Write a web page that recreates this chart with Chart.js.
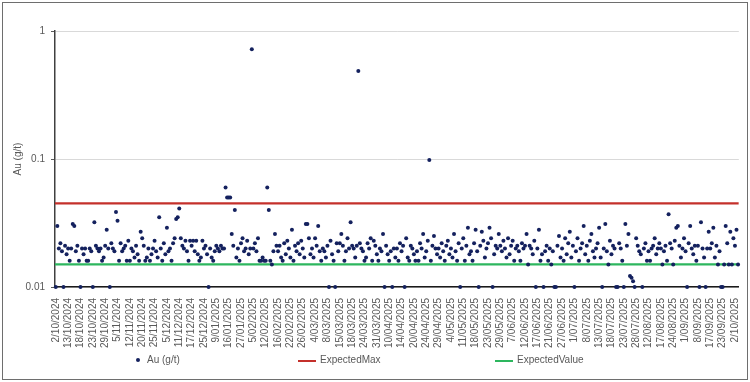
<!DOCTYPE html>
<html>
<head>
<meta charset="utf-8">
<script src="https://cdn.jsdelivr.net/npm/chart.js@4"></script>
<style>
  body { margin: 0; background: #fff; }
  #wrap { position: relative; width: 750px; height: 382px; font-family: "Liberation Sans", Arial, sans-serif; }
  #frame { position: absolute; left: 2px; top: 2px; width: 744px; height: 376px; border: 1px solid #6e6e6e; pointer-events: none; }
  .lg { position: absolute; top: 353px; font-size: 10px; color: #595959; line-height: 14px; }
  .sw { position: absolute; top: 360px; height: 2px; width: 18px; }
  .dot { position: absolute; left: 136px; top: 358px; width: 4px; height: 4px; border-radius: 50%; background: #14215e; }
</style>
</head>
<body>
<div id="wrap">
  <canvas id="chart" width="750" height="382"></canvas>
  <div id="frame"></div>
  <div class="dot"></div><span class="lg" style="left:147px">Au (g/t)</span>
  <div class="sw" style="left:298px;background:#c4302b"></div><span class="lg" style="left:320px">ExpectedMax</span>
  <div class="sw" style="left:495px;background:#2db65e"></div><span class="lg" style="left:517px">ExpectedValue</span>
</div>
<script>
// category labels shown on the x axis (every 8th sample)
const tickLabels = [
  "2/10/2024", "13/10/2024", "18/10/2024", "23/10/2024", "29/10/2024", "5/11/2024",
  "12/11/2024", "20/11/2024", "25/11/2024", "5/12/2024", "11/12/2024", "17/12/2024",
  "25/12/2024", "9/01/2025", "16/01/2025", "27/01/2025", "5/02/2025", "12/02/2025",
  "16/02/2025", "22/02/2025", "26/02/2025", "4/03/2025", "8/03/2025", "15/03/2025",
  "18/03/2025", "24/03/2025", "31/03/2025", "10/04/2025", "14/04/2025", "20/04/2025",
  "24/04/2025", "29/04/2025", "4/05/2025", "11/05/2025", "18/05/2025", "23/05/2025",
  "29/05/2025", "7/06/2025", "12/06/2025", "17/06/2025", "21/06/2025", "27/06/2025",
  "1/07/2025", "8/07/2025", "13/07/2025", "18/07/2025", "23/07/2025", "28/07/2025",
  "12/08/2025", "17/08/2025", "24/08/2025", "1/09/2025", "8/09/2025", "17/09/2025",
  "23/09/2025", "2/10/2025"
];
const labelStep = 8;

// Au (g/t) per sample
const auValues = [
  0.01, 0.03, 0.02, 0.022, 0.019, 0.01, 0.021, 0.018,
  0.02, 0.016, 0.02, 0.031, 0.03, 0.019, 0.021, 0.016,
  0.01, 0.02, 0.018, 0.02, 0.016, 0.016, 0.02, 0.019,
  0.01, 0.032, 0.021, 0.02, 0.019, 0.02, 0.016, 0.017,
  0.021, 0.028, 0.02, 0.01, 0.022, 0.02, 0.019, 0.0385,
  0.033, 0.016, 0.022, 0.019, 0.02, 0.021, 0.016, 0.023,
  0.016, 0.02, 0.019, 0.017, 0.021, 0.018, 0.016, 0.027,
  0.024, 0.021, 0.016, 0.017, 0.02, 0.016, 0.018, 0.02,
  0.023, 0.019, 0.017, 0.035, 0.02, 0.016, 0.022, 0.018,
  0.029, 0.019, 0.02, 0.016, 0.022, 0.024, 0.034, 0.035,
  0.041, 0.024, 0.021, 0.02, 0.023, 0.019, 0.016, 0.023,
  0.021, 0.023, 0.019, 0.023, 0.018, 0.016, 0.017, 0.023,
  0.02, 0.021, 0.018, 0.01, 0.02, 0.017, 0.016, 0.019,
  0.021, 0.02, 0.019, 0.021, 0.02, 0.02, 0.06, 0.05,
  0.05, 0.05, 0.026, 0.021, 0.04, 0.017, 0.02, 0.016,
  0.022, 0.024, 0.019, 0.02, 0.023, 0.018, 0.02, 0.72,
  0.02, 0.022, 0.019, 0.024, 0.016, 0.016, 0.017, 0.016,
  0.016, 0.06, 0.04, 0.016, 0.015, 0.019, 0.026, 0.021,
  0.019, 0.021, 0.017, 0.016, 0.022, 0.018, 0.023, 0.02,
  0.017, 0.028, 0.016, 0.021, 0.019, 0.022, 0.018, 0.023,
  0.02, 0.017, 0.031, 0.031, 0.024, 0.018, 0.02, 0.017,
  0.024, 0.021, 0.03, 0.019, 0.016, 0.02, 0.019, 0.017,
  0.021, 0.01, 0.023, 0.018, 0.016, 0.01, 0.022, 0.019,
  0.022, 0.026, 0.021, 0.016, 0.019, 0.024, 0.02, 0.032,
  0.021, 0.02, 0.017, 0.021, 0.487, 0.022, 0.02, 0.019,
  0.016, 0.017, 0.022, 0.02, 0.024, 0.016, 0.023, 0.021,
  0.018, 0.016, 0.02, 0.019, 0.026, 0.01, 0.021, 0.018,
  0.016, 0.019, 0.01, 0.02, 0.017, 0.02, 0.016, 0.022,
  0.019, 0.021, 0.01, 0.024, 0.017, 0.016, 0.021, 0.02,
  0.018, 0.016, 0.019, 0.016, 0.022, 0.02, 0.026, 0.017,
  0.019, 0.023, 0.098, 0.016, 0.021, 0.025, 0.02, 0.018,
  0.02, 0.017, 0.022, 0.019, 0.016, 0.021, 0.023, 0.018,
  0.02, 0.017, 0.026, 0.019, 0.016, 0.022, 0.01, 0.02,
  0.024, 0.016, 0.021, 0.029, 0.018, 0.019, 0.016, 0.022,
  0.028, 0.019, 0.01, 0.021, 0.027, 0.023, 0.017, 0.02,
  0.022, 0.029, 0.024, 0.01, 0.018, 0.021, 0.02, 0.026,
  0.021, 0.019, 0.023, 0.02, 0.017, 0.024, 0.018, 0.021,
  0.023, 0.016, 0.02, 0.021, 0.019, 0.016, 0.022, 0.02,
  0.021, 0.026, 0.015, 0.021, 0.02, 0.018, 0.023, 0.01,
  0.02, 0.028, 0.016, 0.018, 0.01, 0.019, 0.021, 0.016,
  0.02, 0.015, 0.019, 0.01, 0.01, 0.021, 0.025, 0.017,
  0.02, 0.016, 0.024, 0.018, 0.022, 0.027, 0.017, 0.021,
  0.01, 0.019, 0.024, 0.016, 0.02, 0.022, 0.03, 0.018,
  0.021, 0.016, 0.023, 0.026, 0.019, 0.017, 0.02, 0.022,
  0.029, 0.017, 0.01, 0.02, 0.031, 0.019, 0.015, 0.023,
  0.018, 0.021, 0.02, 0.01, 0.01, 0.022, 0.02, 0.016,
  0.01, 0.031, 0.021, 0.026, 0.0122, 0.0118, 0.0111, 0.01,
  0.024, 0.021, 0.019, 0.018, 0.01, 0.02, 0.022, 0.016,
  0.019, 0.016, 0.02, 0.021, 0.024, 0.018, 0.02, 0.022,
  0.02, 0.015, 0.019, 0.021, 0.016, 0.037, 0.022, 0.02,
  0.015, 0.023, 0.029, 0.03, 0.021, 0.017, 0.02, 0.024,
  0.019, 0.01, 0.022, 0.03, 0.02, 0.018, 0.021, 0.016,
  0.021, 0.01, 0.032, 0.02, 0.017, 0.01, 0.02, 0.027,
  0.02, 0.022, 0.029, 0.017, 0.021, 0.015, 0.019, 0.01,
  0.01, 0.015, 0.03, 0.022, 0.015, 0.027, 0.015, 0.024,
  0.021, 0.028, 0.015
];

const expectedMax = 0.045;
const expectedValue = 0.015;
const yTicks = [0.01, 0.1, 1];

const FONT = "'Liberation Sans', Arial, sans-serif";
const xMin = -0.5;
const xMax = auValues.length - 0.5;

const ctx = document.getElementById("chart").getContext("2d");

new Chart(ctx, {
  type: "scatter",
  data: {
    datasets: [
      {
        label: "Au (g/t)",
        data: auValues.map((v, i) => ({ x: i, y: v })),
        backgroundColor: "#14215e",
        borderColor: "#14215e",
        borderWidth: 0,
        pointRadius: 2,
        clip: false
      },
      {
        label: "ExpectedMax",
        data: [{ x: xMin, y: expectedMax }, { x: xMax, y: expectedMax }],
        showLine: true,
        borderColor: "#c4302b",
        borderWidth: 2.25,
        pointRadius: 0
      },
      {
        label: "ExpectedValue",
        data: [{ x: xMin, y: expectedValue }, { x: xMax, y: expectedValue }],
        showLine: true,
        borderColor: "#2db65e",
        borderWidth: 2.25,
        pointRadius: 0
      }
    ]
  },
  options: {
    responsive: false,
    animation: false,
    layout: { padding: { top: 31, right: 9, left: 0, bottom: 0 } },
    plugins: {
      legend: { display: false },
      tooltip: { enabled: false }
    },
    scales: {
      x: {
        type: "linear",
        min: xMin,
        max: xMax,
        afterBuildTicks: s => { s.ticks = tickLabels.map((t, i) => ({ value: i * labelStep })); },
        afterFit: s => { s.height = 95; },
        ticks: {
          autoSkip: false,
          minRotation: 90,
          maxRotation: 90,
          padding: 3,
          color: "#595959",
          font: { family: FONT, size: 10 },
          callback: (v, i) => tickLabels[i]
        },
        grid: { display: false },
        border: { color: "#1a1a1a", width: 1.5 }
      },
      y: {
        type: "logarithmic",
        min: 0.01,
        max: 1,
        afterBuildTicks: s => { s.ticks = yTicks.map(v => ({ value: v })); },
        afterFit: s => { s.width = 55; },
        ticks: {
          padding: 6,
          color: "#595959",
          font: { family: FONT, size: 10 },
          callback: v => String(v)
        },
        grid: { color: "#d9d9d9", lineWidth: 1, tickLength: 4, tickColor: "#595959" },
        border: { color: "#404040", width: 1.5 },
        title: {
          display: true,
          text: "Au (g/t)",
          color: "#595959",
          font: { family: FONT, size: 10 },
          padding: { top: 12, bottom: 4 }
        }
      }
    }
  }
});
</script>
</body>
</html>
